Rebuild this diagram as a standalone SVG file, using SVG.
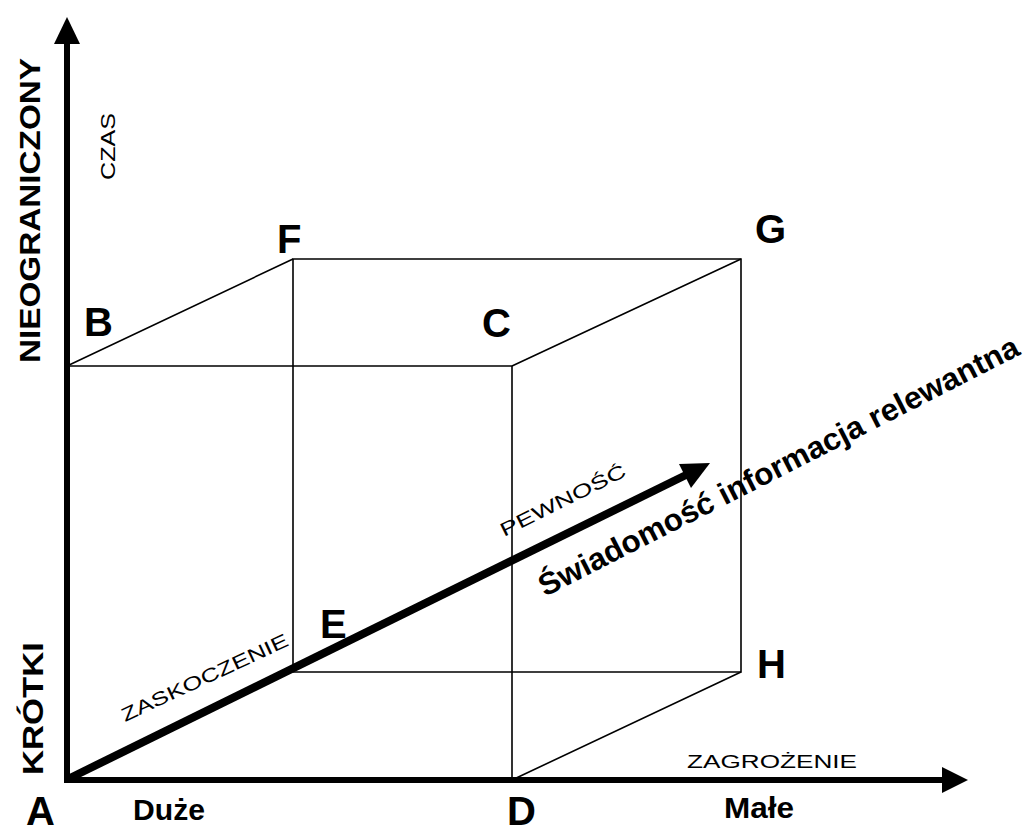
<svg xmlns="http://www.w3.org/2000/svg" width="1028" height="834" viewBox="0 0 1028 834">
<style>
text{font-family:"Liberation Sans",Arial,sans-serif;fill:#000}
.b{font-weight:bold}
.lbl{font-weight:bold;font-size:40px}
.thin{stroke:#000;stroke-width:1.6;fill:none}
.axis{stroke:#000;stroke-width:6;fill:none}
.head{fill:#000}
</style>
<rect width="1028" height="834" fill="#fff"/>
<g id="connectors">
  <path class="thin" d="M67,366 H512 V780"/>
  <path class="thin" d="M293,672 V259 H741 V672 H293"/>
  <path class="thin" d="M67,366 L293,259 M512,366 L741,259 M512,780 L741,672"/>
  <g id="axis-y"><line class="axis" x1="67" y1="783" x2="67" y2="42"/><polygon class="head" points="67,17 54,44 80,44"/></g>
  <g id="axis-x"><line class="axis" x1="64" y1="780" x2="945" y2="780"/><polygon class="head" points="968,780 942,767 942,793"/></g>
  <g id="arrow-info"><line stroke="#000" stroke-width="8" x1="68" y1="779" x2="688" y2="474"/><polygon class="head" points="710,463 679,464 691,488"/></g>
</g>
<g id="node-A"><text class="lbl" x="26" y="825">A</text></g>
<g id="node-B"><text class="lbl" x="84" y="336">B</text></g>
<g id="node-C"><text class="lbl" x="482" y="337">C</text></g>
<g id="node-D"><text class="lbl" x="507" y="825">D</text></g>
<g id="node-E"><text class="lbl" x="320" y="638">E</text></g>
<g id="node-F"><text class="lbl" x="277" y="253">F</text></g>
<g id="node-G"><text class="lbl" x="755" y="243">G</text></g>
<g id="node-H"><text class="lbl" x="757" y="678">H</text></g>
<g id="axis-labels">
  <text class="b" font-size="29" textLength="305" lengthAdjust="spacingAndGlyphs" transform="translate(40,363) rotate(-90)">NIEOGRANICZONY</text>
  <text class="b" font-size="29" textLength="133" lengthAdjust="spacingAndGlyphs" transform="translate(43,775) rotate(-90)">KRÓTKI</text>
  <text font-size="21" textLength="67" lengthAdjust="spacingAndGlyphs" transform="translate(115,180) rotate(-90)">CZAS</text>
  <text font-size="19" x="687" y="768" textLength="170" lengthAdjust="spacingAndGlyphs">ZAGROŻENIE</text>
  <text class="b" font-size="29" x="133" y="820" textLength="72" lengthAdjust="spacingAndGlyphs">Duże</text>
  <text class="b" font-size="29" x="724" y="818" textLength="70" lengthAdjust="spacingAndGlyphs">Małe</text>
  <text font-size="19" textLength="182" lengthAdjust="spacingAndGlyphs" transform="translate(125,722) rotate(-25)">ZASKOCZENIE</text>
  <text font-size="19" textLength="138" lengthAdjust="spacingAndGlyphs" transform="translate(504,537) rotate(-26.5)">PEWNOŚĆ</text>
  <text class="b" font-size="31" textLength="535" lengthAdjust="spacingAndGlyphs" transform="translate(545,597) rotate(-27)">Świadomość informacja relewantna</text>
</g>
</svg>
